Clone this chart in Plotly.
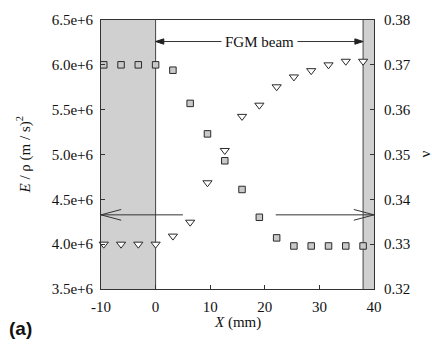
import plotly.graph_objects as go

# ---- data ----
x_mm = [-9.5, -6.33, -3.17, 0, 3.17, 6.33, 9.5, 12.67, 15.83, 19.0,
        22.17, 25.33, 28.5, 31.67, 34.83, 38.0]
E_over_rho = [6.0e6, 6.0e6, 6.0e6, 6.0e6, 5.94e6, 5.57e6, 5.23e6, 4.93e6,
              4.61e6, 4.30e6, 4.07e6, 3.98e6, 3.98e6, 3.98e6, 3.98e6, 3.98e6]
nu = [0.330, 0.330, 0.330, 0.330, 0.3318, 0.3349, 0.3437, 0.3509,
      0.3585, 0.3610, 0.3651, 0.3673, 0.3687, 0.3700, 0.3708, 0.3708]

x_ticks = [-10, 0, 10, 20, 30, 40]
x_tick_labels = ["-10", "0", "10", "20", "30", "40"]
beam_start, beam_end = 0, 38
x_min, x_max = -10, 40
y_min, y_max = 3.5e6, 6.5e6
y2_min, y2_max = 0.32, 0.38
fgm_arrow_y = 6.26e6
lower_arrow_y = 4.327e6
lower_left_end, lower_right_start = 5.0, 22.0

SERIF = "Liberation Serif"
band_color = "#d0d0d0"

fig = go.Figure()

fig.add_trace(go.Scatter(
    x=x_mm, y=E_over_rho, mode="markers", yaxis="y",
    marker=dict(symbol="square", size=6.5, color="#c9c9c9",
                line=dict(color="#2a2a2a", width=1)),
    showlegend=False, cliponaxis=False))

fig.add_trace(go.Scatter(
    x=x_mm, y=nu, mode="markers", yaxis="y2",
    marker=dict(symbol="triangle-down", size=8, color="white",
                line=dict(color="#2a2a2a", width=1)),
    showlegend=False, cliponaxis=False))

shapes = []
# shaded supports
for x0, x1 in [(x_min, beam_start), (beam_end, x_max)]:
    shapes.append(dict(type="rect", xref="x", yref="paper", x0=x0, x1=x1,
                       y0=0, y1=1, fillcolor=band_color, layer="below",
                       line=dict(width=0)))
for xe in [beam_start, beam_end]:
    shapes.append(dict(type="line", xref="x", yref="paper", x0=xe, x1=xe,
                       y0=0, y1=1, layer="below",
                       line=dict(color="#444", width=1)))

ln = dict(color="#333", width=1)
# FGM beam arrow: line + filled heads
head_dx = 1.5
head_dy = 0.03e6
shapes.append(dict(type="line", xref="x", yref="y", x0=beam_start, x1=beam_end,
                   y0=fgm_arrow_y, y1=fgm_arrow_y, line=ln))
shapes.append(dict(type="path", xref="x", yref="y",
                   path=f"M{beam_start},{fgm_arrow_y} L{beam_start + head_dx},{fgm_arrow_y + head_dy} "
                        f"L{beam_start + head_dx},{fgm_arrow_y - head_dy} Z",
                   fillcolor="#222", line=dict(color="#222", width=1)))
shapes.append(dict(type="path", xref="x", yref="y",
                   path=f"M{beam_end},{fgm_arrow_y} L{beam_end - head_dx},{fgm_arrow_y + head_dy} "
                        f"L{beam_end - head_dx},{fgm_arrow_y - head_dy} Z",
                   fillcolor="#222", line=dict(color="#222", width=1)))

# lower horizontal arrows with open heads
wing_dx = 3.7
wing_dy = 0.06e6
shapes.append(dict(type="line", xref="x", yref="y", x0=x_min, x1=lower_left_end,
                   y0=lower_arrow_y, y1=lower_arrow_y, line=ln))
shapes.append(dict(type="line", xref="x", yref="y", x0=lower_right_start, x1=x_max,
                   y0=lower_arrow_y, y1=lower_arrow_y, line=ln))
for sgn in (1, -1):
    shapes.append(dict(type="line", xref="x", yref="y", x0=x_min, x1=x_min + wing_dx,
                       y0=lower_arrow_y, y1=lower_arrow_y + sgn * wing_dy, line=ln))
    shapes.append(dict(type="line", xref="x", yref="y", x0=x_max, x1=x_max - wing_dx,
                       y0=lower_arrow_y, y1=lower_arrow_y + sgn * wing_dy, line=ln))

annotations = []
mid = (beam_start + beam_end) / 2
annotations.append(dict(x=mid, y=fgm_arrow_y, xref="x", yref="y", text="FGM beam",
                        showarrow=False, bgcolor="white", borderpad=3,
                        font=dict(family=SERIF, size=15, color="#111")))
# axis titles as annotations
annotations.append(dict(x=0, y=0.5, xref="paper", yref="paper", xanchor="center",
                        yanchor="middle", showarrow=False, textangle=-90, xshift=-77,
                        text="<i>E</i> / ρ (m / s)<sup>2</sup>",
                        font=dict(family=SERIF, size=15, color="#111")))
annotations.append(dict(x=0.5, y=0, xref="paper", yref="paper", xanchor="center",
                        yanchor="middle", showarrow=False, yshift=-33,
                        text="<i>X</i> (mm)",
                        font=dict(family=SERIF, size=15, color="#111")))
annotations.append(dict(x=1, y=0.5, xref="paper", yref="paper", xanchor="center",
                        yanchor="middle", showarrow=False, xshift=50, textangle=-90,
                        text="ν", font=dict(family=SERIF, size=15, color="#111")))
annotations.append(dict(x=0, y=0, xref="paper", yref="paper", xanchor="center",
                        yanchor="middle", showarrow=False, xshift=-81, yshift=-39,
                        text="<b>(a)</b>",
                        font=dict(family="Liberation Sans", size=19, color="#111")))

axis_font = dict(family=SERIF, size=15, color="#111")
fig.update_layout(
    width=432, height=346,
    margin=dict(l=101, r=58, t=15, b=57),
    paper_bgcolor="white", plot_bgcolor="rgba(0,0,0,0)",
    shapes=shapes, annotations=annotations,
    xaxis=dict(range=[x_min, x_max], tickvals=x_ticks, ticktext=x_tick_labels,
               ticks="inside", ticklen=4,
               tickcolor="#333", showline=True, linecolor="#333", mirror=True,
               showgrid=False, zeroline=False, tickfont=axis_font,
               ticklabelstandoff=4),
    yaxis=dict(range=[y_min, y_max], dtick=0.5e6, tickformat=".1e", ticks="inside",
               ticklen=4, tickcolor="#333", showline=True, linecolor="#333",
               mirror=True, showgrid=False, zeroline=False, tickfont=axis_font,
               ticklabelstandoff=4),
    yaxis2=dict(range=[y2_min, y2_max], dtick=0.01, tickformat=".2f",
                overlaying="y", side="right", ticks="inside", ticklen=4,
                tickcolor="#333", showline=True, linecolor="#333",
                showgrid=False, zeroline=False, tickfont=axis_font,
                ticklabelstandoff=6),
)

fig.write_html("out.html")
